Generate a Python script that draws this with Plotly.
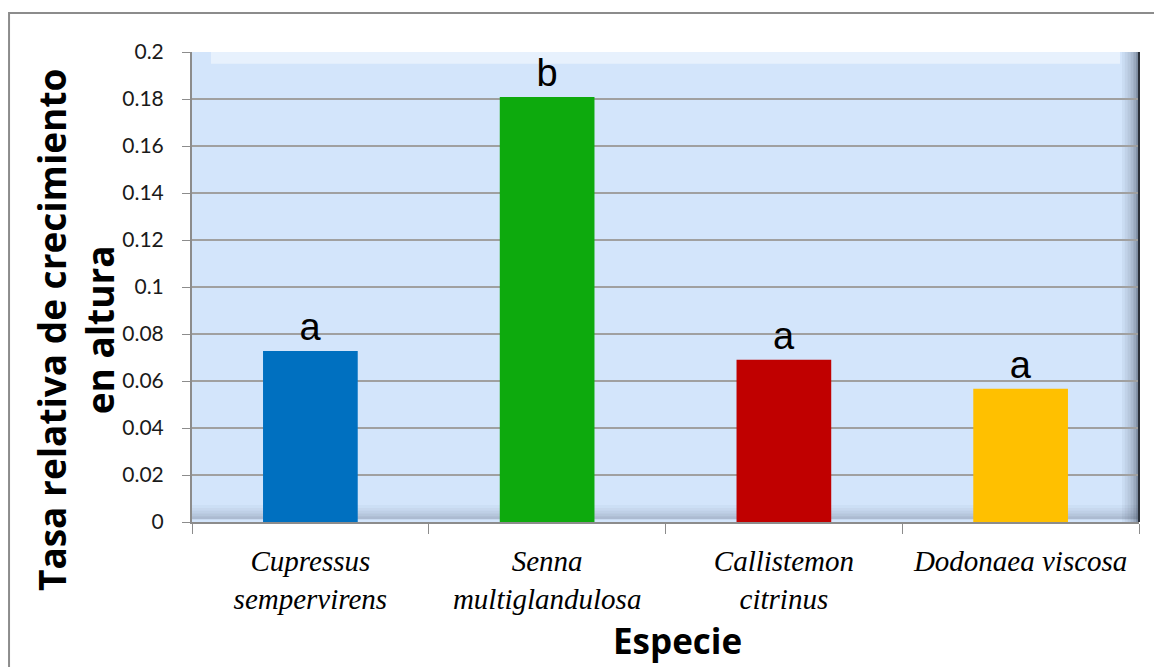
import plotly.graph_objects as go

species = ["Cupressus<br>sempervirens", "Senna<br>multiglandulosa", "Callistemon<br>citrinus", "Dodonaea viscosa"]
values = [0.0728, 0.1808, 0.0690, 0.0567]
letters = ["a", "b", "a", "a"]
colors = ["#0070C0", "#0DAA0D", "#C00000", "#FFC000"]
y_ticks = [0, 0.02, 0.04, 0.06, 0.08, 0.1, 0.12, 0.14, 0.16, 0.18, 0.2]
y_ticktext = ["0", "0.02", "0.04", "0.06", "0.08", "0.1", "0.12", "0.14", "0.16", "0.18", "0.2"]

fig = go.Figure()
fig.add_trace(go.Bar(
    x=species, y=values, marker=dict(color=colors, line=dict(width=0)),
    width=0.4, text=letters, textposition="outside",
    textfont=dict(family="Liberation Sans, Arial", size=38, color="black"),
    cliponaxis=False,
))

shapes = []
# outer chart border
shapes.append(dict(type="rect", xref="paper", yref="paper", x0=-0.1932, x1=1.05, y0=-0.4, y1=1.083,
                   line=dict(color="#8c8c8c", width=2), fillcolor="rgba(0,0,0,0)", layer="below"))
# bevel effect: right edge and bottom shading
for i, op in enumerate([0.05, 0.1, 0.16, 0.24, 0.34, 0.5]):
    shapes.append(dict(type="rect", xref="paper", yref="paper",
                       x0=1 - 0.018 + i * 0.003, x1=1 - 0.015 + i * 0.003, y0=0, y1=1,
                       fillcolor=f"rgba(40,50,70,{op})", line=dict(width=0), layer="below"))
for i, op in enumerate([0.04, 0.08, 0.13, 0.19, 0.26]):
    shapes.append(dict(type="rect", xref="paper", yref="paper",
                       x0=0, x1=1, y0=0.03 - i * 0.006, y1=0.036 - i * 0.006,
                       fillcolor=f"rgba(60,70,90,{op})", line=dict(width=0), layer="below"))
shapes.append(dict(type="rect", xref="paper", yref="paper", x0=0.02, x1=0.98, y0=0.975, y1=1,
                   fillcolor="rgba(255,255,255,0.45)", line=dict(width=0), layer="below"))
shapes.append(dict(type="line", xref="paper", yref="paper", x0=1, x1=1, y0=0, y1=1,
                   line=dict(color="#2a2f38", width=2)))

fig.update_layout(
    width=1154, height=659,
    margin=dict(l=184, r=23, t=44, b=145),
    paper_bgcolor="white", plot_bgcolor="#d3e5fb",
    showlegend=False,
    shapes=shapes,
    xaxis=dict(
        tickfont=dict(family="Liberation Serif, Times New Roman", size=29, color="black", style="italic"),
        ticks="outside", ticklen=10, tickcolor="#8c8c8c", tickwidth=1,
        tickson="boundaries", showline=True, linecolor="#8c8c8c", linewidth=2,
        showgrid=False, ticklabelstandoff=12,
    ),
    yaxis=dict(
        range=[0, 0.2], tickvals=y_ticks, ticktext=y_ticktext,
        tickfont=dict(family="Lato, Open Sans", size=21, color="#1a1a1a"),
        ticks="outside", ticklen=8, tickcolor="#8c8c8c", ticklabelstandoff=14,
        showgrid=True, gridcolor="#a0a0a0", gridwidth=2,
        showline=True, linecolor="#8c8c8c", linewidth=2, zeroline=False,
    ),
    annotations=[
        dict(text="<b>Tasa relativa de crecimiento<br>en altura</b>", xref="paper", yref="paper",
             x=-0.1235, y=0.4085, xanchor="center", yanchor="middle", textangle=-90, showarrow=False,
             font=dict(family="Open Sans, Lato", size=37, color="black")),
        dict(text="<b>Especie</b>", xref="paper", yref="paper", x=0.513, y=-0.252,
             xanchor="center", yanchor="middle",
             showarrow=False, font=dict(family="Open Sans, Lato", size=35, color="black")),
    ],
)

fig.write_html("out.html")
